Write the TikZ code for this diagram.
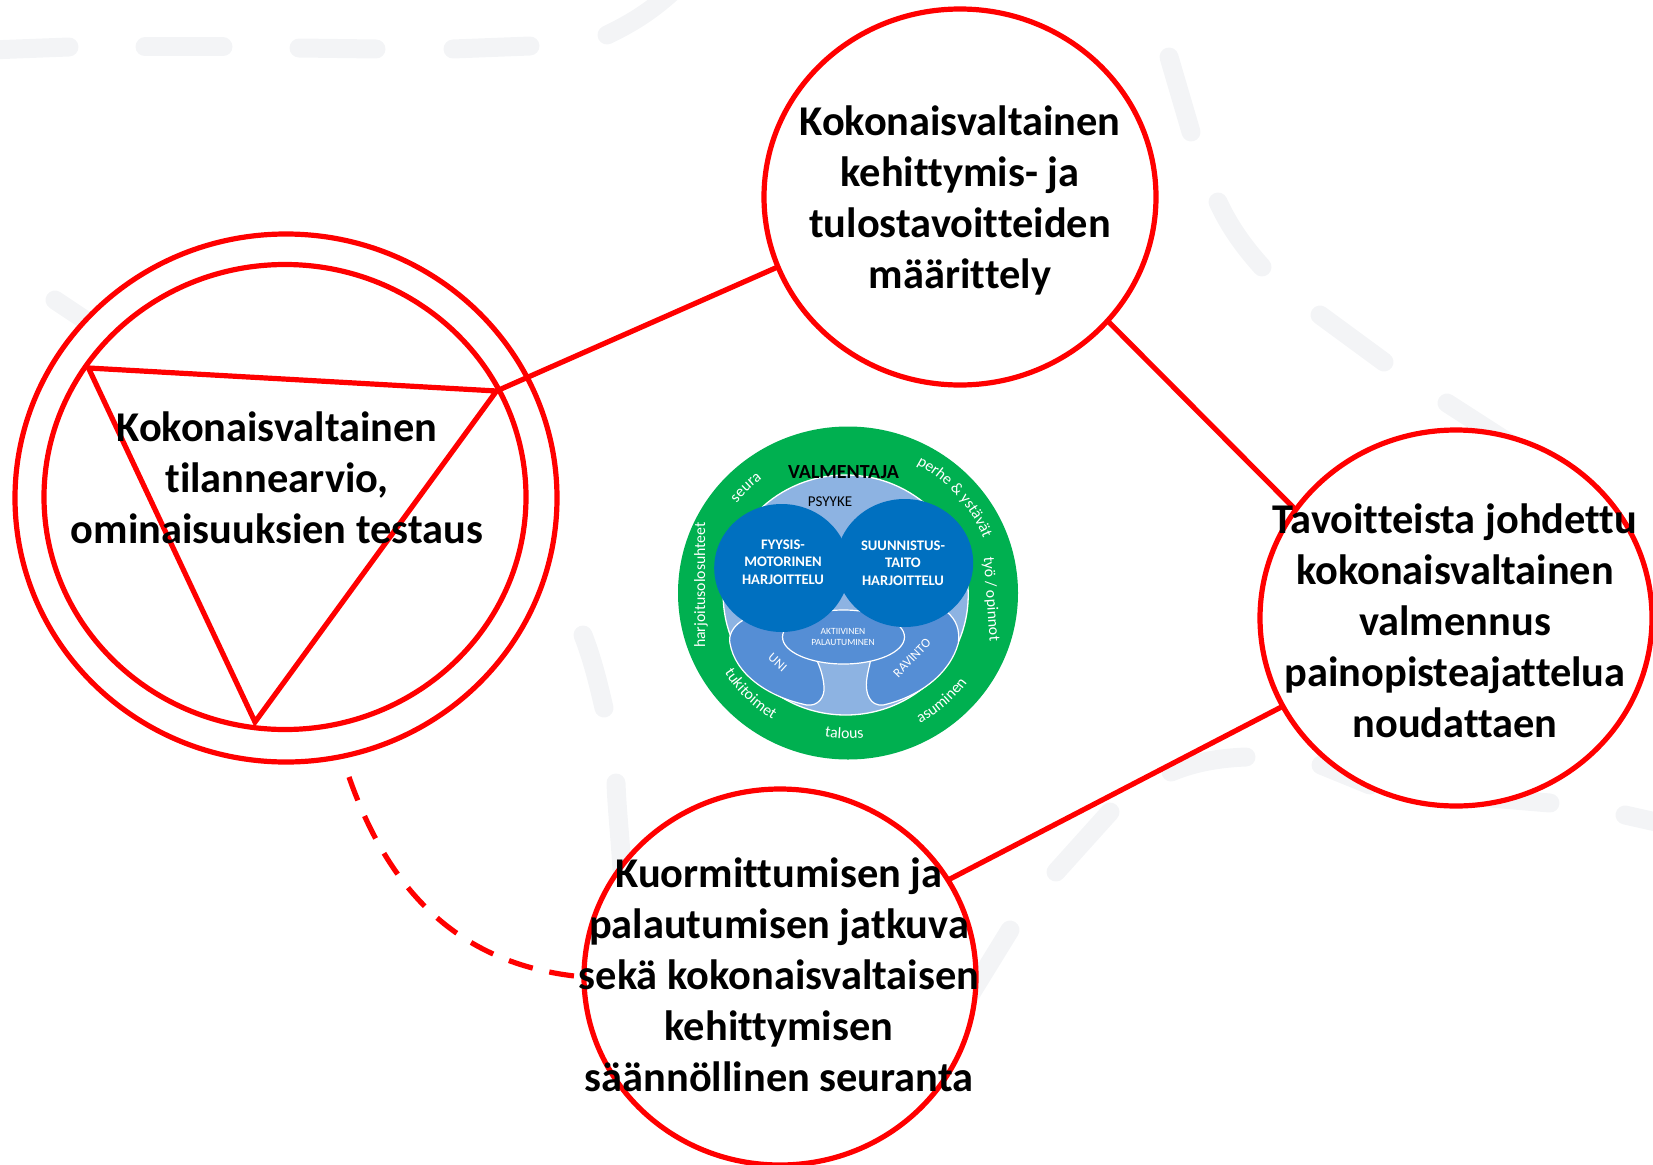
\documentclass[tikz,border=0pt]{standalone}
\usepackage{fontspec}
\setmainfont{Carlito}[Ligatures=NoCommon]
\usetikzlibrary{shapes.geometric,decorations.text,calc}
\definecolor{redline}{HTML}{FF0000}
\definecolor{bgdash}{HTML}{F3F4F6}
\definecolor{ringgreen}{HTML}{00B050}
\definecolor{lightblue}{HTML}{8DB3E2}
\definecolor{midblue}{HTML}{558ED5}
\definecolor{darkblue}{HTML}{0070C0}
\tikzset{
  x=1pt,y=1pt,
  bgline/.style={draw=bgdash,line width=19pt,line cap=round},
  stage/.style={ellipse,draw=redline,line width=5.2pt,fill=white,inner sep=0pt,outer sep=0pt,minimum width=392pt,minimum height=376pt},
  link/.style={draw=redline,line width=5.2pt},
  stagetext/.style={align=center,font=\fontsize{42.4}{51}\selectfont\bfseries,text=black,inner sep=0pt},
  inner/.style={align=center,text=white,inner sep=0pt},
}
\newcommand{\ringtext}[5]{%
  \path[decorate,decoration={text along path,text align=center,text={|\fontsize{#5}{#5}\selectfont\color{white}|#4}}]
    ($(ringc)+(#1:#3)$) arc[start angle=#1,end angle=#2,radius=#3];
}
\begin{document}
\begin{tikzpicture}
\useasboundingbox (0,0) rectangle (1653,-1164);
% background dashes
\draw[bgline] (-10,-50) -- (69,-47);
\draw[bgline] (145,-47) -- (223,-47);
\draw[bgline] (299,-48) -- (376,-49);
\draw[bgline] (453,-49) -- (530,-46);
\draw[bgline] (607,-35) .. controls (630,-24) and (650,-12) .. (672,8);
\draw[bgline] (1169,-57) -- (1191,-132);
\draw[bgline] (1218,-202) .. controls (1230,-228) and (1245,-248) .. (1262,-267);
\draw[bgline] (1320,-315) -- (1384,-362);
\draw[bgline] (1447,-403) -- (1520,-450);
\draw[bgline] (55,-300) -- (100,-330);
\draw[bgline] (583,-635) .. controls (592,-658) and (598,-682) .. (604,-708);
\draw[bgline] (616,-783) .. controls (617,-810) and (620,-835) .. (622,-870);
\draw[bgline] (1056,-872) -- (1110,-812);
\draw[bgline] (1171,-772) .. controls (1195,-762) and (1220,-758) .. (1246,-757);
\draw[bgline] (1010,-930) -- (970,-995);
\draw[bgline] (1321,-765) -- (1370,-785);
\draw[bgline] (1490,-798) -- (1550,-803);
\draw[bgline] (1625,-815) -- (1665,-824);
% stage circles
\node[stage,minimum width=542pt,minimum height=528pt] (outer) at (286,-498) {};
\node[stage,minimum width=482pt,minimum height=465pt] (innerc) at (285,-497) {};
\node[stage] (top) at (960,-197) {};
\node[stage] (right) at (1456,-618) {};
\node[stage] (bottom) at (780,-977) {};
% triangle
\coordinate (ta) at (88.5,-368);
\coordinate (tb) at (496.5,-391);
\coordinate (tc) at (255,-722);
\draw[link,line join=miter] (ta) -- (tb) -- (tc) -- cycle;
% connectors
\draw[link] (tb) -- (top.201);
\draw[link] (top.-40) -- (right.146.5);
\draw[link] (right.207.5) -- (bottom.30.6);
\coordinate (dashstart) at (349,-777);
\draw[link,dash pattern=on 25pt off 17pt] (dashstart) .. controls (385,-880) and (450,-965) .. (bottom.west);
% central emblem
\coordinate (ringc) at (848,-593);
\node[ellipse,fill=ringgreen,inner sep=0pt,minimum width=340pt,minimum height=333pt] (ring) at (ringc) {};
\node[ellipse,fill=lightblue,draw=white,line width=1.3pt,inner sep=0pt,minimum width=245pt,minimum height=240pt] (pool) at (845.7,-595) {};
\begin{scope}[shift={(660,-410)},x=0.3333pt,y=-0.3333pt]
 \path[fill=midblue,draw=white,line width=1.2pt] (250,630) .. controls (215,650) and (205,680) .. (210,700) .. controls (225,790) and (320,860) .. (440,885) .. controls (475,890) and (495,860) .. (492,830) .. controls (490,800) and (480,770) .. (470,750) -- (400,640) -- cycle;
 \path[fill=midblue,draw=white,line width=1.2pt] (860,605) .. controls (890,630) and (900,660) .. (895,700) .. controls (870,790) and (780,860) .. (670,885) .. controls (630,890) and (615,850) .. (620,810) .. controls (622,790) and (628,770) .. (632,750) -- (700,640) -- cycle;
\end{scope}
\node[ellipse,fill=midblue,draw=white,line width=1.2pt,inner sep=0pt,minimum width=122pt,minimum height=54pt] (active) at (843.5,-637) {};
\node[ellipse,fill=darkblue,inner sep=0pt,minimum width=135pt,minimum height=128pt] (fyys) at (781.7,-568) {};
\node[ellipse,fill=darkblue,inner sep=0pt,minimum width=137pt,minimum height=128pt] (suun) at (904.7,-563) {};
\node[inner,font=\fontsize{14.6}{17.5}\selectfont\bfseries] (fyystext) at (783,-562) {FYYSIS-\\MOTORINEN\\HARJOITTELU};
\node[inner,font=\fontsize{14.6}{17.5}\selectfont\bfseries] (suuntext) at (903,-563) {SUUNNISTUS-\\TAITO\\HARJOITTELU};
\node[inner,font=\fontsize{9.5}{11.7}\selectfont] (activetext) at (843,-637) {AKTIIVINEN\\PALAUTUMINEN};
\node[inner,font=\fontsize{13}{13}\selectfont,rotate=-42] (uni) at (777.5,-662.5) {UNI};
\node[inner,font=\fontsize{13}{13}\selectfont,rotate=46] (ravinto) at (912,-658) {RAVINTO};
\node[inner,text=black,font=\fontsize{15}{15}\selectfont] (psyyke) at (830,-502) {PSYYKE};
\node[inner,text=black,font=\fontsize{20}{20}\selectfont\bfseries] (valm) at (843.5,-472) {VALMENTAJA};
% ring labels
\node[inner,font=\fontsize{15.8}{15.8}\selectfont,rotate=90] (harj) at (701,-585) {harjoitusolosuhteet};
\node[inner,font=\fontsize{15.8}{15.8}\selectfont,rotate=-86] (tyo) at (991,-599) {työ / opinnot};
\ringtext{163}{105}{143}{seura}{15.8}
\ringtext{80}{4}{146}{perhe {\&} ystävät}{15.8}
\ringtext{-91}{-7}{149}{asuminen}{15.8}
\ringtext{-121.5}{-61.5}{145.5}{talous}{15.8}
\ringtext{-184}{-84}{147}{tukitoimet}{15.8}
% main labels
\node[stagetext] (t1) at (277,-478) {Kokonaisvaltainen\\tilannearvio,\\ominaisuuksien testaus};
\node[stagetext] (t2) at (960,-200) {Kokonaisvaltainen\\kehittymis- ja\\tulostavoitteiden\\määrittely};
\node[stagetext] (t3) at (1455,-621) {Tavoitteista johdettu\\kokonaisvaltainen\\valmennus\\painopisteajattelua\\noudattaen};
\node[stagetext] (t4) at (779,-975) {Kuormittumisen ja\\palautumisen jatkuva\\sekä kokonaisvaltaisen\\kehittymisen\\säännöllinen seuranta};
\end{tikzpicture}
\end{document}
